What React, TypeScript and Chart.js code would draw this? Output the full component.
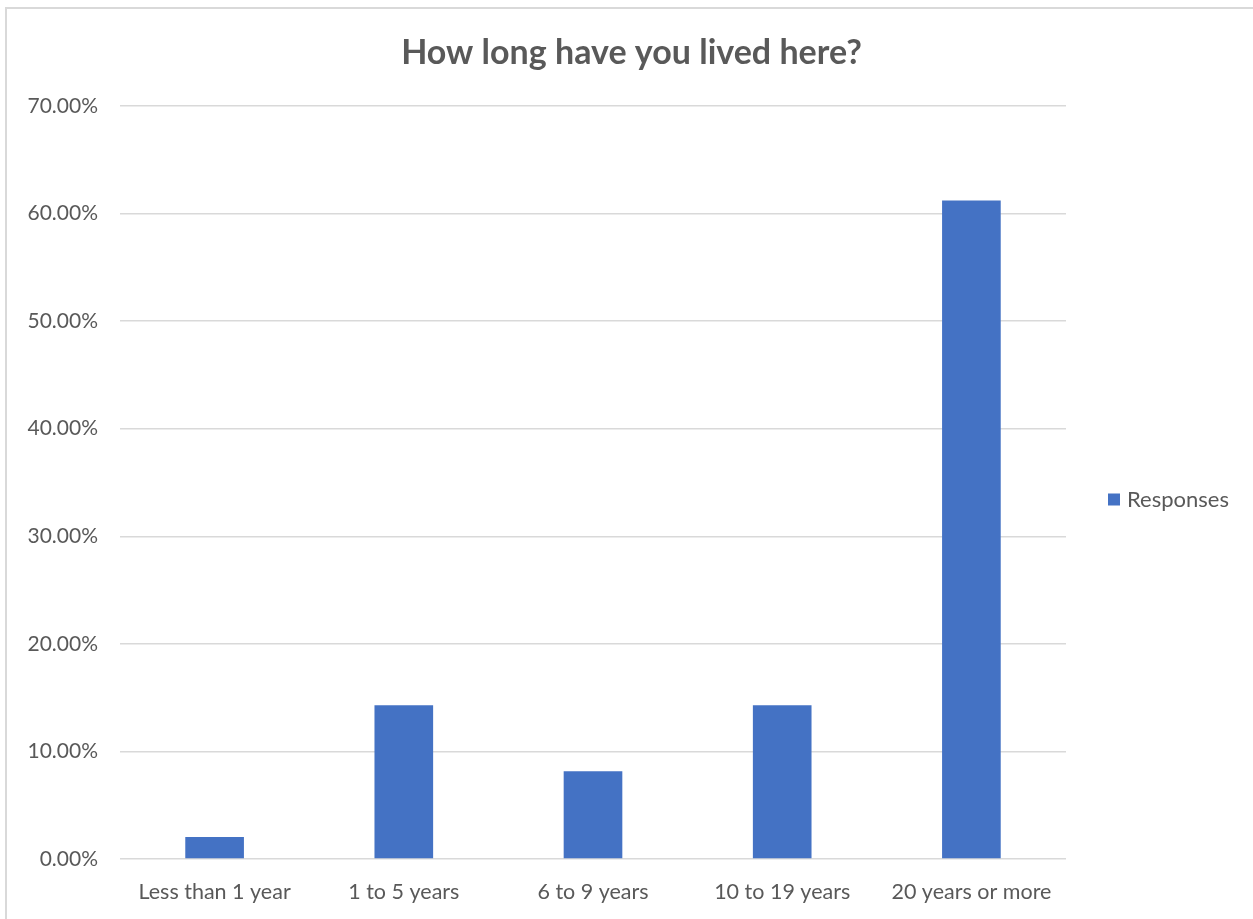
import React, { useEffect, useRef } from "react";
import { Chart, registerables } from "chart.js";

Chart.register(...registerables);

const categories = ["Less than 1 year", "1 to 5 years", "6 to 9 years", "10 to 19 years", "20 years or more"];
const responses = [2.04, 14.29, 8.16, 14.29, 61.22];
const yTicks = [0, 10, 20, 30, 40, 50, 60, 70];
const seriesName = "Responses";
const titleText = "How long have you lived here?";

const TEXT = "#595959";
const BAR = "#4472C4";
const GRID = "#d9d9d9";
const FONT = "Lato";

const framePlugin = {
  id: "frame",
  beforeDraw(chart: any) {
    const { ctx, width, height } = chart;
    ctx.save();
    ctx.fillStyle = "#ffffff";
    ctx.fillRect(0, 0, width, height);
    ctx.strokeStyle = GRID;
    ctx.lineWidth = 2;
    ctx.beginPath();
    ctx.moveTo(6, height);
    ctx.lineTo(6, 8);
    ctx.lineTo(width, 8);
    ctx.stroke();
    ctx.restore();
  },
};

const titlePlugin = {
  id: "centeredTitle",
  afterDraw(chart: any) {
    const { ctx, width } = chart;
    ctx.save();
    ctx.fillStyle = TEXT;
    ctx.font = `bold 34px ${FONT}`;
    ctx.textAlign = "center";
    ctx.textBaseline = "middle";
    ctx.fillText(titleText, (width + 10) / 2, 53);
    ctx.restore();
  },
};

const legendPlugin = {
  id: "customLegend",
  afterDraw(chart: any) {
    const { ctx, chartArea } = chart;
    const cy = (chartArea.top + chartArea.bottom) / 2 + 17;
    const x = chartArea.right + 42;
    ctx.save();
    ctx.fillStyle = BAR;
    ctx.fillRect(x, cy - 6, 12, 12);
    ctx.fillStyle = TEXT;
    ctx.font = `22px ${FONT}`;
    ctx.textBaseline = "middle";
    ctx.textAlign = "left";
    ctx.fillText(seriesName, x + 19, cy);
    ctx.restore();
  },
};

export default function App() {
  const ref = useRef<HTMLCanvasElement | null>(null);

  useEffect(() => {
    if (!ref.current) return;
    const chart = new Chart(ref.current, {
      type: "bar",
      data: {
        labels: categories,
        datasets: [
          {
            label: seriesName,
            data: responses,
            backgroundColor: BAR,
            borderWidth: 0,
            barPercentage: 0.31,
            categoryPercentage: 1,
          },
        ],
      },
      options: {
        responsive: false,
        animation: false,
        layout: { padding: { left: 10, right: 187, top: 106, bottom: 0 } },
        plugins: {
          legend: { display: false },
          tooltip: { enabled: false },
          title: { display: false },
        },
        scales: {
          x: {
            grid: { display: false },
            border: { display: false },
            ticks: {
              color: TEXT,
              font: { family: FONT, size: 21.5 },
              padding: 12,
              maxRotation: 0,
              autoSkip: false,
            },
            afterFit: (scale: any) => {
              scale.height = 60;
            },
          },
          y: {
            min: 0,
            max: 70,
            afterBuildTicks: (scale: any) => {
              scale.ticks = yTicks.map((v) => ({ value: v }));
            },
            grid: { color: GRID, lineWidth: 1.5, drawTicks: false },
            border: { display: false },
            ticks: {
              color: TEXT,
              font: { family: FONT, size: 21 },
              padding: 22,
              callback: (v: any) => Number(v).toFixed(2) + "%",
            },
            afterFit: (scale: any) => {
              scale.width = 110;
            },
          },
        },
      },
      plugins: [framePlugin, titlePlugin, legendPlugin],
    });
    return () => chart.destroy();
  }, []);

  return (
    <div style={{ position: "fixed", left: 0, top: 0, width: 1253, height: 919 }}>
      <canvas ref={ref} width={1253} height={919} style={{ display: "block" }} />
    </div>
  );
}
